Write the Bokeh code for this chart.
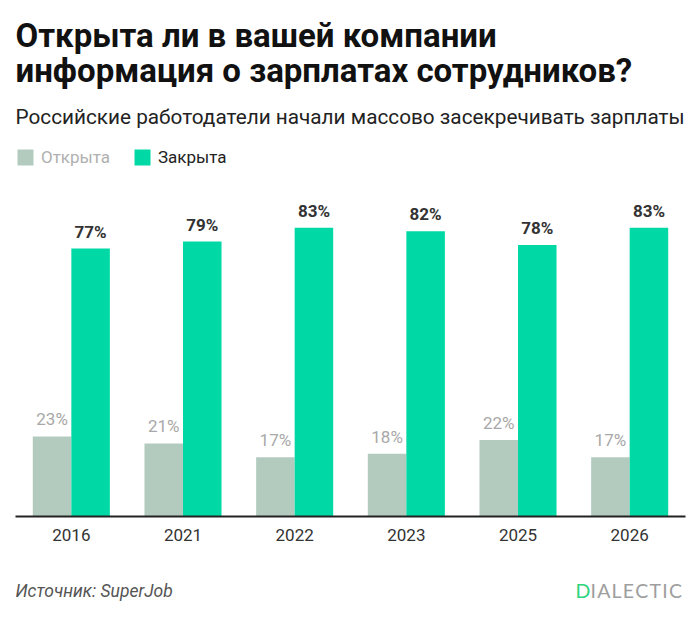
from bokeh.plotting import figure
from bokeh.layouts import column
from bokeh.models import (ColumnDataSource, FactorRange, Range1d, LabelSet, Label,
                          Legend, LegendItem)
from bokeh.core.properties import value
from bokeh.transform import dodge
from bokeh.embed import file_html
from bokeh.resources import INLINE

# Survey data: share of companies where salary info is open / closed
years = ["2016", "2021", "2022", "2023", "2025", "2026"]
open_share = [23, 21, 17, 18, 22, 17]
closed_share = [77, 79, 83, 82, 78, 83]

title_lines = ["Открыта ли в вашей компании", "информация о зарплатах сотрудников?"]
subtitle = "Российские работодатели начали массово засекречивать зарплаты"
source_note = "Источник: SuperJob"
series_names = ["Открыта", "Закрыта"]

GREY = "#b3cbbf"
GREEN = "#00d9a5"
FONT = "Roboto"

src = ColumnDataSource(dict(
    year=years,
    open=open_share,
    closed=closed_share,
    open_lbl=[f"{v}%" for v in open_share],
    closed_lbl=[f"{v}%" for v in closed_share],
))

p = figure(
    width=700, height=556,
    x_range=FactorRange(*years, range_padding=0),
    y_range=Range1d(0, 148.3),
    output_backend="svg", toolbar_location=None,
    min_border_left=15, min_border_right=15,
    min_border_top=0, min_border_bottom=40,
)
p.outline_line_color = None
p.background_fill_color = "white"
p.border_fill_color = "white"
p.grid.visible = False
p.yaxis.visible = False

ax = p.xaxis[0]
ax.axis_line_color = "#222222"
ax.axis_line_width = 2
ax.major_tick_line_color = None
ax.minor_tick_line_color = None
ax.major_label_text_font = FONT
ax.major_label_text_font_size = "17px"
ax.major_label_text_color = "#333333"
ax.major_label_standoff = 6

bw = 0.345
x_open = dodge("year", -0.1725, range=p.x_range)
x_closed = dodge("year", 0.1725, range=p.x_range)
r_open = p.vbar(x=x_open, top="open", width=bw, source=src,
                fill_color=GREY, line_color=None)
r_closed = p.vbar(x=x_closed, top="closed", width=bw, source=src,
                  fill_color=GREEN, line_color=None)

p.add_layout(LabelSet(x=x_open, y="open", text="open_lbl", source=src, y_offset=11,
                      text_align="center", text_baseline="alphabetic",
                      text_font=value(FONT), text_font_size="17px", text_color="#a8a8a8"))
p.add_layout(LabelSet(x=x_closed, y="closed", text="closed_lbl", source=src, y_offset=11,
                      text_align="center", text_baseline="alphabetic",
                      text_font=value(FONT), text_font_size="17px",
                      text_font_style="bold", text_color="#333333"))

# Legends: one per series so each label keeps its own colour
for item_r, name, color, x in [(r_open, series_names[0], "#b0b0b0", 0),
                               (r_closed, series_names[1], "#222222", 117)]:
    lg = Legend(items=[LegendItem(label=name, renderers=[item_r])],
                location=(x, 349), orientation="horizontal",
                glyph_width=20, glyph_height=20, label_standoff=6,
                label_text_font=FONT, label_text_font_size="17px",
                label_text_color=color, padding=0, margin=0, spacing=0,
                border_line_color=None, background_fill_alpha=0, label_height=20)
    p.add_layout(lg, "center")


def screen_label(fig, text, x, y, size, color, style="normal", align="left", font=FONT):
    fig.add_layout(Label(x=x, y=y, x_units="screen", y_units="screen", text=text,
                         text_font=font, text_font_size=size, text_color=color,
                         text_font_style=style, text_align=align,
                         text_baseline="alphabetic"))


screen_label(p, title_lines[0], 0, 481, "33px", "#111111", "bold")
screen_label(p, title_lines[1], 0, 446, "33px", "#111111", "bold")
screen_label(p, subtitle, 0, 400, "20.75px", "#222222")

# Footer strip: source note and brand mark
footer = figure(width=700, height=86, x_range=Range1d(0, 700), y_range=Range1d(0, 86),
                x_axis_type=None, y_axis_type=None,
                output_backend="svg", toolbar_location=None,
                min_border=0, min_border_left=0, min_border_right=0,
                min_border_top=0, min_border_bottom=0)
footer.outline_line_color = None
footer.grid.visible = False
footer.border_fill_color = "white"

screen_label(footer, source_note, 0, 52, "17.5px", "#555555", "italic")
screen_label(footer, "D", 560, 52, "19.5px", "#2fd47f", font="Lato")
screen_label(footer, "\u200a".join("IALECTIC"), 575, 52, "19.5px", "#9e9e9e", font="Lato")

layout = column(p, footer, spacing=0)
open("out.html", "w").write(file_html(layout, INLINE))
